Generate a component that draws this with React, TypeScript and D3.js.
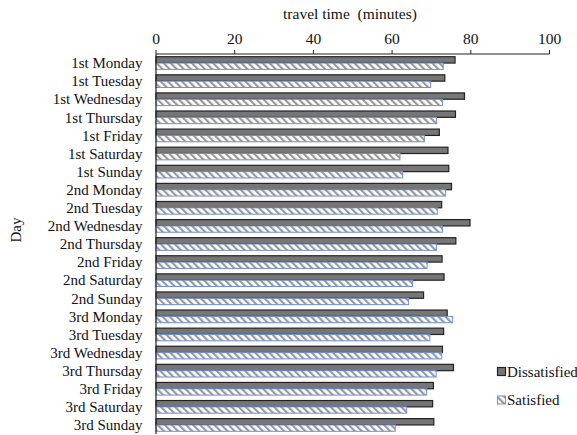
import React from "react";
import * as d3 from "d3";

const days = [
  "1st Monday", "1st Tuesday", "1st Wednesday", "1st Thursday", "1st Friday", "1st Saturday", "1st Sunday",
  "2nd Monday", "2nd Tuesday", "2nd Wednesday", "2nd Thursday", "2nd Friday", "2nd Saturday", "2nd Sunday",
  "3rd Monday", "3rd Tuesday", "3rd Wednesday", "3rd Thursday", "3rd Friday", "3rd Saturday", "3rd Sunday",
];
const dissatisfied = [76.0, 73.4, 78.4, 76.1, 72.0, 74.2, 74.4, 75.1, 72.6, 79.8, 76.2, 72.7, 73.2, 68.0, 74.0, 73.1, 72.8, 75.6, 70.5, 70.3, 70.6];
const satisfied = [73.0, 69.8, 72.8, 71.3, 68.2, 62.0, 62.7, 73.6, 71.5, 72.8, 71.3, 68.9, 65.2, 64.2, 75.4, 69.6, 72.6, 71.2, 68.8, 63.7, 60.8];
const xTicks = [0, 20, 40, 60, 80, 100];
const seriesNames = ["Dissatisfied", "Satisfied"];

const W = 577, H = 435;
const FONT = "'Liberation Serif', 'Times New Roman', serif";

export default function App() {
  const x = d3.scaleLinear().domain([0, 100]).range([156, 549.5]);
  const y = d3.scaleBand().domain(days).range([54, 434]).paddingInner(0.3).paddingOuter(0.15);
  const sub = d3.scaleBand().domain(seriesNames).range([0, y.bandwidth()]).padding(0);
  const bh = sub.bandwidth();
  return (
    <svg width={W} height={H} style={{ position: "absolute", left: 0, top: 0, background: "#fff" }} fontFamily={FONT}>
      <defs>
        <pattern id="hatch" width="5" height="5" patternUnits="userSpaceOnUse" patternTransform="rotate(-45)">
          <rect width="5" height="5" fill="#ffffff" />
          <rect x="0" y="0" width="2.2" height="5" fill="#9a9a9a" />
        </pattern>
      </defs>
      <text x={350} y={19} textAnchor="middle" fontSize={15.5} fill="#111" style={{ whiteSpace: "pre" }}>{"travel time  (minutes)"}</text>
      {xTicks.map((t) => (
        <g key={t}>
          <line x1={x(t)} x2={x(t)} y1={50} y2={54} stroke="#222" strokeWidth={1} />
          <text x={x(t)} y={44} textAnchor="middle" fontSize={15.5} fill="#111">{t}</text>
        </g>
      ))}
      {days.map((d, i) => {
        const y0 = y(d)!;
        return (
          <g key={d}>
            <rect x={x(0)} y={y0 + sub("Dissatisfied")!} width={x(dissatisfied[i]) - x(0)} height={bh} fill="#767676" stroke="#222" strokeWidth={1.2} />
            <rect x={x(0)} y={y0 + sub("Satisfied")!} width={x(satisfied[i]) - x(0)} height={bh} fill="url(#hatch)" stroke="#6f8fd8" strokeWidth={1} />
            <text x={142.5} y={y0 + y.bandwidth() / 2} dy="0.35em" textAnchor="end" fontSize={15} fill="#111">{d}</text>
          </g>
        );
      })}
      <line x1={x(0)} x2={x(100)} y1={54} y2={54} stroke="#222" strokeWidth={1.2} />
      <line x1={x(0)} x2={x(0)} y1={54} y2={434} stroke="#222" strokeWidth={1.2} />
      <text transform={`translate(21,230) rotate(-90)`} textAnchor="middle" fontSize={15} fill="#111">Day</text>
      <rect x={497.5} y={367.5} width={8} height={8} fill="#767676" stroke="#222" strokeWidth={1.2} />
      <text x={507} y={376.5} fontSize={15} fill="#111">Dissatisfied</text>
      <rect x={497.5} y={396} width={8} height={8} fill="url(#hatch)" stroke="#6f8fd8" strokeWidth={1} />
      <text x={507} y={405} fontSize={15} fill="#111">Satisfied</text>
    </svg>
  );
}
